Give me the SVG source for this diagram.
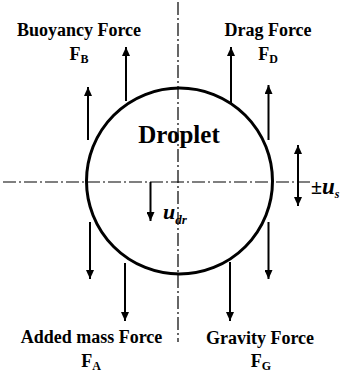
<svg xmlns="http://www.w3.org/2000/svg" width="344" height="372" viewBox="0 0 344 372">
<style>
.lbl{font-family:"Liberation Serif","Times New Roman",serif;font-weight:bold;fill:#000}
.ar{stroke:#000;stroke-width:2;fill:none;marker-end:url(#ah)}
.axis{stroke:#000;stroke-width:1.2;stroke-dasharray:13 3 2 3;fill:none}
</style>
<defs>
<marker id="ah" markerUnits="userSpaceOnUse" markerWidth="9" markerHeight="8" refX="9" refY="4" orient="auto-start-reverse" viewBox="0 0 9 8">
<path d="M0,0 L9,4 L0,8 Z" fill="#000"/>
</marker>
</defs>
<g id="axes">
<line class="axis" x1="178" y1="2" x2="178" y2="342"/>
<line class="axis" x1="3" y1="182" x2="310" y2="182"/>
</g>
<g id="droplet">
<circle cx="179.5" cy="181" r="93" fill="none" stroke="#000" stroke-width="3"/>
<text class="lbl" x="179" y="143" font-size="25" text-anchor="middle">Droplet</text>
</g>
<g id="connectors">
<path class="ar" d="M126,101 V47"/>
<path class="ar" d="M88,140 V87"/>
<path class="ar" d="M231,103 V47"/>
<path class="ar" d="M268.5,140 V85"/>
<path class="ar" d="M90,222 V279"/>
<path class="ar" d="M125,263 V321"/>
<path class="ar" d="M230,262 V321"/>
<path class="ar" d="M268.5,222 V279"/>
<path class="ar" d="M298,145 V206" style="marker-start:url(#ah)"/>
<path class="ar" d="M150.5,182 V221"/>
</g>
<g id="buoyancy">
<text class="lbl" x="79" y="36" font-size="18" text-anchor="middle">Buoyancy Force</text>
<text class="lbl" x="79" y="60" font-size="18" text-anchor="middle">F<tspan font-size="12" dy="3">B</tspan></text>
</g>
<g id="drag">
<text class="lbl" x="268" y="36" font-size="18" text-anchor="middle">Drag Force</text>
<text class="lbl" x="268" y="60" font-size="18" text-anchor="middle">F<tspan font-size="12" dy="3">D</tspan></text>
</g>
<g id="added">
<text class="lbl" x="91.5" y="343" font-size="18" text-anchor="middle">Added mass Force</text>
<text class="lbl" x="91" y="367" font-size="18" text-anchor="middle">F<tspan font-size="12" dy="3">A</tspan></text>
</g>
<g id="gravity">
<text class="lbl" x="260" y="344" font-size="18" text-anchor="middle">Gravity Force</text>
<text class="lbl" x="261" y="367" font-size="18" text-anchor="middle">F<tspan font-size="12" dy="3">G</tspan></text>
</g>
<g id="us">
<text class="lbl" x="311" y="194" font-size="20">±<tspan font-style="italic" font-size="23">u</tspan><tspan font-style="italic" font-size="12" dy="4">s</tspan></text>
</g>
<g id="udr">
<text class="lbl" x="163" y="219" font-size="22" font-style="italic">u<tspan font-size="13" dy="5">dr</tspan></text>
</g>
</svg>
